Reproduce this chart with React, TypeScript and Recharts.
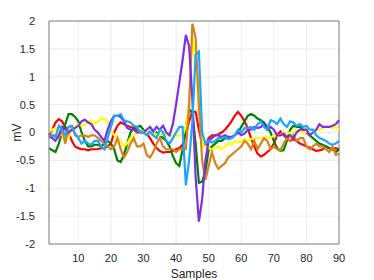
import React from 'react';
import { LineChart, Line, XAxis, YAxis, CartesianGrid, ReferenceLine } from 'recharts';

const samples = Array.from({ length: 90 }, (_, i) => i + 1);

const red = [
  -0.05, 0.05, 0.18, 0.24, 0.2, 0.1, 0.0, -0.15, -0.25, -0.28,
  -0.3, -0.3, -0.32, -0.3, -0.3, -0.3, -0.28, -0.28, -0.25, -0.2,
  0.0, 0.12, 0.18, 0.15, 0.12, 0.1, 0.08, 0.05, 0.02, 0.0,
  -0.02, -0.1, -0.2, -0.28, -0.33, -0.36, -0.35, -0.35, -0.33, -0.3,
  -0.28, -0.22, -0.05, 0.2, 0.38, 0.37, 0.05, -0.2, -0.25, -0.1,
  -0.05, -0.05, -0.03, 0.0, 0.05, 0.12, 0.2, 0.3, 0.37, 0.3,
  0.2, 0.08, -0.1, -0.25, -0.38, -0.43, -0.4, -0.35, -0.3, -0.2,
  -0.05, 0.02, -0.05, -0.1, -0.15, -0.12, -0.15, -0.2, -0.22, -0.25,
  -0.27, -0.3, -0.33, -0.32, -0.3, -0.25, -0.28, -0.3, -0.28, -0.3,
];

const green = [
  -0.28, -0.32, -0.35, -0.2, 0.0, 0.15, 0.33, 0.33, 0.28, 0.2,
  0.0, -0.15, -0.25, -0.25, -0.22, -0.22, -0.25, -0.2, -0.15, -0.2,
  -0.3, -0.5, -0.53, -0.4, -0.2, 0.0, 0.08, 0.1, 0.12, 0.05,
  0.0, 0.0, -0.05, 0.0, -0.05, -0.1, -0.15, -0.25, -0.42, -0.55,
  -0.6, -0.3, 0.1, 0.42, 0.35, -0.2, -0.9, -0.88, -0.7, -0.3,
  -0.25, -0.2, -0.15, -0.15, -0.1, -0.1, -0.1, -0.05, 0.0, 0.1,
  0.2, 0.3, 0.33, 0.3, 0.25, 0.22, 0.18, 0.1, 0.0, -0.15,
  -0.28, -0.33, -0.32, -0.15, 0.05, 0.12, 0.1, 0.1, 0.05, 0.0,
  -0.05, -0.1, -0.15, -0.2, -0.22, -0.25, -0.28, -0.3, -0.35, -0.3,
];

const yellow = [
  0.0, 0.05, 0.08, 0.05, -0.05, -0.05, -0.1, 0.05, 0.1, 0.15,
  0.12, 0.15, 0.2, 0.22, 0.15, 0.2, 0.25, 0.25, 0.2, 0.05,
  -0.05, -0.1, -0.15, -0.25, -0.2, -0.1, -0.05, 0.0, 0.0, 0.02,
  0.0, 0.0, -0.02, -0.03, -0.05, -0.03, -0.05, -0.05, -0.05, -0.05,
  -0.05, -0.05, 0.1, 0.5, 1.7, 1.3, 0.4, -0.2, -0.25, -0.28,
  -0.3, -0.28, -0.25, -0.3, -0.25, -0.2, -0.22, -0.15, -0.18, -0.15,
  -0.12, -0.15, -0.12, -0.1, -0.1, -0.1, -0.1, -0.08, -0.1, -0.05,
  -0.05, -0.05, 0.0, -0.02, 0.0, 0.0, 0.05, 0.02, 0.0, 0.02,
  -0.02, 0.0, 0.05, 0.05, 0.08, 0.1, 0.1, 0.08, 0.1, 0.05,
];

const orange = [
  -0.1, -0.05, -0.05, -0.1, 0.05, -0.2, 0.1, 0.12, -0.05, -0.08,
  -0.05, -0.05, -0.08, -0.05, -0.05, -0.1, -0.15, -0.2, -0.25, -0.3,
  -0.25, -0.1, -0.3, -0.45, -0.35, -0.2, -0.1, -0.25, -0.25, -0.2,
  -0.4, -0.45, -0.35, -0.2, -0.1, -0.25, -0.3, -0.3, -0.3, -0.35,
  -0.3, -0.3, -0.3, 0.5, 1.95, 1.7, 0.5, -0.5, -0.85, -0.6,
  -0.35, -0.55, -0.65, -0.6, -0.55, -0.45, -0.4, -0.35, -0.3, -0.25,
  -0.15, -0.2, -0.3, -0.15, -0.3, -0.2, -0.1, -0.15, -0.3, -0.25,
  -0.3, -0.32, -0.2, -0.1, -0.15, -0.05, -0.15, -0.1, -0.1, -0.25,
  -0.3, -0.25, -0.2, -0.25, -0.25, -0.3, -0.35, -0.25, -0.4, -0.38,
];

const purple = [
  -0.05, -0.1, -0.15, -0.05, 0.1, 0.05, 0.0, 0.05, 0.08, 0.12,
  0.2, 0.23, 0.18, 0.15, 0.05, 0.0, -0.08, -0.15, 0.05, 0.2,
  0.3, 0.3, 0.28, 0.2, 0.08, 0.05, 0.05, 0.0, 0.0, 0.0,
  0.05, 0.1, 0.02, 0.1, 0.05, 0.12, 0.0, -0.05, 0.15, 0.5,
  0.9, 1.3, 1.75, 1.55, 0.6, -0.8, -1.6, -1.2, -0.5, -0.15,
  -0.1, -0.05, -0.05, -0.08, -0.05, -0.08, -0.08, -0.05, 0.0, -0.05,
  -0.02, 0.05, 0.05, 0.1, 0.08, 0.1, 0.15, 0.05, 0.1, 0.05,
  -0.05, -0.05, -0.02, -0.08, -0.05, -0.1, 0.0, 0.05, 0.05, 0.05,
  -0.05, 0.0, 0.05, 0.15, 0.1, 0.1, 0.1, 0.12, 0.15, 0.22,
];

const blue = [
  -0.05, -0.05, -0.08, 0.12, 0.05, -0.05, 0.1, 0.12, -0.02, -0.1,
  -0.2, -0.15, -0.2, -0.22, -0.15, -0.15, -0.25, -0.3, -0.1, 0.1,
  0.3, 0.3, 0.33, 0.22, 0.2, 0.18, 0.12, 0.1, 0.0, 0.0,
  -0.05, 0.02, -0.05, -0.1, 0.05, 0.0, -0.15, -0.2, -0.1, 0.0,
  0.1, 0.1, -0.95, -0.5, 0.2, 1.4, 1.45, 0.0, -0.2, -0.15,
  -0.18, -0.15, -0.1, -0.1, -0.08, -0.12, -0.1, -0.05, 0.05, 0.0,
  0.08, 0.08, 0.1, 0.05, 0.15, 0.2, 0.1, 0.05, 0.22, 0.2,
  0.15, 0.25, 0.15, 0.1, 0.2, 0.18, 0.12, 0.15, 0.1, 0.12,
  0.05, 0.05, -0.05, -0.1, -0.12, -0.15, -0.2, -0.22, -0.2, -0.15,
];

const xTicks = [10, 20, 30, 40, 50, 60, 70, 80, 90];
const yTicks = [-2, -1.5, -1, -0.5, 0, 0.5, 1, 1.5, 2];

const series = [
  { key: 'red', values: red, color: '#ff0000' },
  { key: 'green', values: green, color: '#008000' },
  { key: 'yellow', values: yellow, color: '#ffff00' },
  { key: 'orange', values: orange, color: '#d9821a' },
  { key: 'purple', values: purple, color: '#7e2fe3' },
  { key: 'blue', values: blue, color: '#1aa5ff' },
];

const data = samples.map((s, i) => {
  const row: any = { s };
  series.forEach((ser) => { row[ser.key] = ser.values[i]; });
  return row;
});

const FONT = 'Liberation Sans, Arial, Helvetica, sans-serif';
const tickStyle = { fontSize: 11, fill: '#262626', fontFamily: FONT };

export default function App() {
  return (
    <div style={{ position: 'absolute', left: 0, top: 0, width: 374, height: 280, background: '#fff' }}>
      <LineChart width={374} height={280} data={data} margin={{ top: 21, right: 35, bottom: 6, left: 0 }}>
        <CartesianGrid stroke="#e8e8e8" strokeWidth={0.8} />
        <XAxis
          dataKey="s"
          type="number"
          domain={[1, 90]}
          ticks={xTicks}
          height={30}
          tickLine={false}
          tickMargin={4}
          stroke="#808080"
          tick={tickStyle}
          label={{ value: 'Samples', position: 'insideBottom', offset: -4, style: { fontSize: 12, fill: '#262626', fontFamily: FONT } }}
        />
        <YAxis
          type="number"
          domain={[-2, 2]}
          ticks={yTicks}
          width={49}
          tickLine={false}
          tickMargin={8}
          stroke="#808080"
          tick={tickStyle}
          label={{ value: 'mV', angle: -90, position: 'insideLeft', offset: 17, style: { fontSize: 12, fill: '#262626', fontFamily: FONT, textAnchor: 'middle' } }}
        />
        <ReferenceLine y={2} stroke="#808080" />
        <ReferenceLine x={90} stroke="#808080" />
        {series.map((ser) => (
          <Line
            key={ser.key}
            dataKey={ser.key}
            stroke={ser.color}
            strokeWidth={2.2}
            dot={false}
            type="linear"
            isAnimationActive={false}
          />
        ))}
      </LineChart>
    </div>
  );
}
